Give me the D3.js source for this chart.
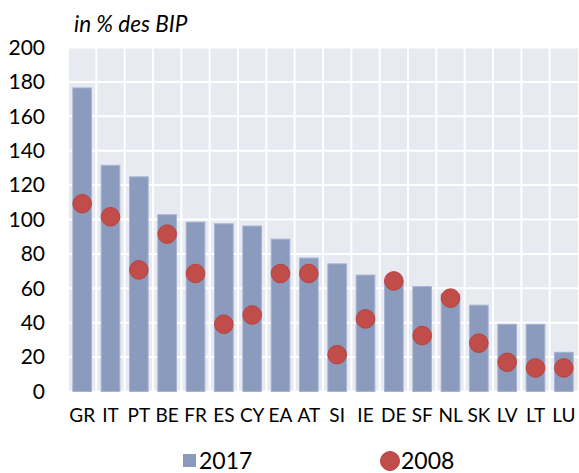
<!DOCTYPE html>
<html>
<head>
<meta charset="utf-8">
<script src="https://cdn.jsdelivr.net/npm/d3@7"></script>
<style>
  html, body { margin: 0; padding: 0; background: #fff; }
  svg { display: block; font-family: Lato, "Open Sans", sans-serif; }
</style>
</head>
<body>
<svg id="chart" width="579" height="473"></svg>
<script>
// Government debt by country, in % of GDP
const countries = ["GR","IT","PT","BE","FR","ES","CY","EA","AT","SI","IE","DE","SF","NL","SK","LV","LT","LU"];
const debt2017 = [176.5,131.5,124.8,102.8,98.5,97.5,96.2,88.6,77.6,74.2,67.7,64.1,61.0,56.7,50.2,39.1,39.1,22.8];
const debt2008 = [109.2,101.6,70.7,91.5,68.6,39.1,44.5,68.6,68.6,21.4,42.2,64.3,32.5,54.3,28.1,17.0,13.7,13.7];
const yTicks = [0,20,40,60,80,100,120,140,160,180,200];
const seriesNames = ["2017","2008"];

const svg = d3.select("#chart");
const plot = { left: 68, right: 578, top: 47.5, bottom: 391.5 };

const x = d3.scaleBand().domain(countries).range([plot.left, plot.right]).paddingInner(0.34).paddingOuter(0.17);
const xCell = d3.scaleBand().domain(countries).range([plot.left, plot.right]);
const y = d3.scaleLinear().domain([0, 200]).range([plot.bottom, plot.top]);

// plot background
svg.append("rect")
  .attr("x", plot.left).attr("y", plot.top)
  .attr("width", plot.right - plot.left).attr("height", plot.bottom - plot.top)
  .attr("fill", "#e8eaf2");

// horizontal grid
svg.append("g").selectAll("line").data(yTicks).join("line")
  .attr("x1", plot.left).attr("x2", plot.right)
  .attr("y1", d => y(d)).attr("y2", d => y(d))
  .attr("stroke", "#fff").attr("stroke-width", 2);

// vertical grid at category boundaries
svg.append("g").selectAll("line").data(countries).join("line")
  .attr("x1", d => xCell(d)).attr("x2", d => xCell(d))
  .attr("y1", plot.top).attr("y2", plot.bottom)
  .attr("stroke", "#fff").attr("stroke-width", 2);

// y axis labels
const yAxis = d3.axisLeft(y).tickValues(yTicks).tickSize(0).tickPadding(0).tickFormat(d3.format("d"));
const gy = svg.append("g").attr("transform", "translate(45,0)").call(yAxis);
gy.select(".domain").remove();
gy.selectAll("text").attr("font-size", 21).attr("fill", "#000").attr("font-family", "Lato, sans-serif");

// x axis labels
const xAxis = d3.axisBottom(x).tickSize(0).tickPadding(0);
const gx = svg.append("g").attr("transform", "translate(0,408)").call(xAxis);
gx.select(".domain").remove();
gx.selectAll("text").attr("font-size", 19).attr("fill", "#000").attr("font-family", "Lato, sans-serif");

// 2017 bars
svg.append("g").selectAll("rect").data(countries).join("rect")
  .attr("x", d => x(d)).attr("width", x.bandwidth())
  .attr("y", (d, i) => y(debt2017[i]))
  .attr("height", (d, i) => y(0) - y(debt2017[i]))
  .attr("fill", "#8a9bbe").attr("stroke", "#a8b5d0").attr("stroke-width", 1);

// 2008 markers
svg.append("g").selectAll("circle").data(countries).join("circle")
  .attr("cx", d => x(d) + x.bandwidth() / 2)
  .attr("cy", (d, i) => y(debt2008[i]))
  .attr("r", 9.3)
  .attr("fill", "#c14d4a").attr("stroke", "#b7433f").attr("stroke-width", 1);

// unit title
svg.append("text").attr("x", 74).attr("y", 32)
  .attr("font-size", 22.5).attr("font-style", "italic").attr("fill", "#000")
  .text("in % des BIP");

// legend
const leg = svg.append("g");
leg.append("rect").attr("x", 183).attr("y", 454).attr("width", 13).attr("height", 13).attr("fill", "#8a9bbe");
leg.append("text").attr("x", 199).attr("y", 468.5).attr("font-size", 23).attr("fill", "#000").text(seriesNames[0]);
leg.append("circle").attr("cx", 390).attr("cy", 461).attr("r", 9.5).attr("fill", "#c14d4a").attr("stroke", "#b7433f");
leg.append("text").attr("x", 401).attr("y", 468.5).attr("font-size", 23).attr("fill", "#000").text(seriesNames[1]);
</script>
</body>
</html>
